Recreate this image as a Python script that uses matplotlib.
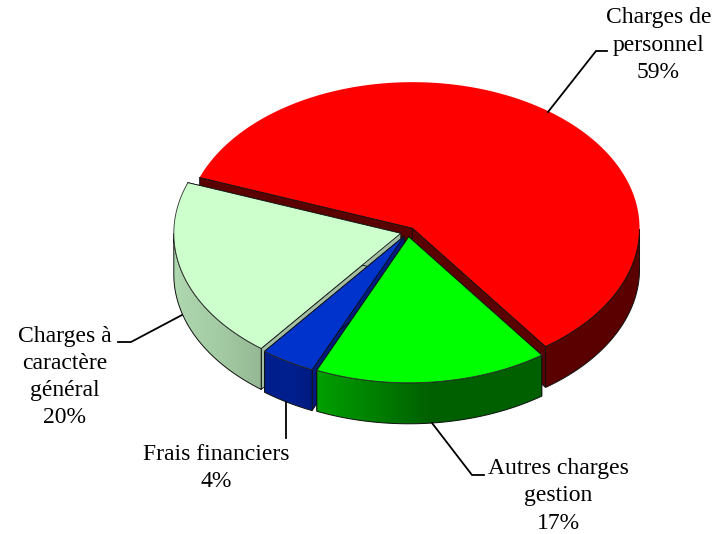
import numpy as np
import matplotlib
matplotlib.use("Agg")
import matplotlib.pyplot as plt
from matplotlib.patches import Polygon
from matplotlib.colors import to_rgb

# Data
categories = ["Charges de\npersonnel", "Autres charges\ngestion", "Frais financiers", "Charges à\ncaractère\ngénéral"]
values = [59.4, 16.6, 3.9, 20.1]
labels_pct = ["59%", "17%", "4%", "20%"]

# Styles
top_colors = ["#ff0000", "#00ff00", "#0033cc", "#ccffcc"]
wall_colors = ["#5a0000", "#006600", "#001a80", "#a3bfa3"]
# outer-wall gradient: colour stops from the left of the visible wall to its right
side_stops = [
    ["#5a0000", "#5a0000"],
    ["#00a000", "#008000", "#006000", "#006000", "#006000"],
    ["#001f8c", "#002090", "#001a80"],
    ["#b0d8b0", "#a4cca4", "#94b894"],
]
back_edge = [False, True, True, True]
draw_order = [0, 3, 2, 1]

CX, CY = 408.0, 232.0
RX, RY = 227.0, 146.0
DEPTH = 41.0
EXPLODE = 0.033
START = 159.7

plt.rcParams["font.family"] = ["Liberation Serif", "DejaVu Serif"]
fig = plt.figure(figsize=(7.21, 5.34), dpi=100)
ax = fig.add_axes([0, 0, 1, 1])
ax.axis("off")

spans = np.array(values) / sum(values) * 360.0
ends = START - np.cumsum(spans)
starts = ends + spans
EDGE = "#101010"

z = 1
for i in draw_order:
    a0, a1 = starts[i], ends[i]
    mid = np.radians((a0 + a1) / 2)
    cx = CX + EXPLODE * RX * np.cos(mid)
    cy = CY - EXPLODE * RY * np.sin(mid)
    th = np.radians(np.linspace(a0, a1, 300))
    px = cx + RX * np.cos(th)
    py = cy - RY * np.sin(th)

    # Inner radial walls
    for k in (0, -1):
        wall = [(cx, cy), (px[k], py[k]), (px[k], py[k] + DEPTH), (cx, cy + DEPTH)]
        ax.add_patch(Polygon(wall, closed=True, fc=wall_colors[i], ec=EDGE, lw=0.6, zorder=z))
    z += 1

    # Outer wall (front part only), horizontal gradient clipped to the wall shape
    front = np.sin(th) < 0
    xf, yf = px[front], py[front]
    outline = np.vstack([np.column_stack([xf, yf]), np.column_stack([xf, yf + DEPTH])[::-1]])
    poly = Polygon(outline, closed=True, fc="none", ec=EDGE, lw=0.7, zorder=z + 1)
    ax.add_patch(poly)
    cols = np.array([to_rgb(c) for c in side_stops[i]])
    stops_x = np.linspace(0, 1, len(cols))
    ts = np.linspace(0, 1, 256)
    img = np.stack([np.interp(ts, stops_x, cols[:, k]) for k in range(3)], axis=-1)[None, :, :]
    im = ax.imshow(img, extent=(xf.min(), xf.max(), yf.max() + DEPTH, yf.min()),
                   aspect="auto", zorder=z, interpolation="bilinear")
    im.set_clip_path(poly)
    z += 2

    # Top face
    pts = np.column_stack([np.r_[cx, px], np.r_[cy, py]])
    ax.add_patch(Polygon(pts, closed=True, fc=top_colors[i], ec="none", zorder=z))
    z += 1
    ax.plot([px[0], cx, px[-1]], [py[0], cy, py[-1]], color=EDGE, lw=0.6, zorder=z)
    if back_edge[i]:
        ax.plot(px, py, color="#303030", lw=0.6, zorder=z)
    else:
        ax.plot(xf, yf, color=EDGE, lw=0.6, zorder=z)
    z += 1

# Labels and leader lines
text_pos = [(658.5, 45), (558, 496), (216, 468), (65, 377)]
leaders = [
    [(548, 112), (596, 51), (607, 51)],
    [(432, 423), (472, 475), (484, 475)],
    [(286, 402), (286, 438)],
    [(182, 315), (131, 342), (118, 342)],
]
for i in range(4):
    xs, ys = zip(*leaders[i])
    ax.plot(xs, ys, color="black", lw=1.3, zorder=z, solid_joinstyle="miter")
    ax.text(text_pos[i][0], text_pos[i][1], categories[i] + "\n" + labels_pct[i],
            ha="center", va="center", fontsize=17, color="black",
            linespacing=1.38, zorder=z + 1)

ax.set_xlim(0, 721)
ax.set_ylim(534, 0)
fig.savefig("out.png", dpi=100)
